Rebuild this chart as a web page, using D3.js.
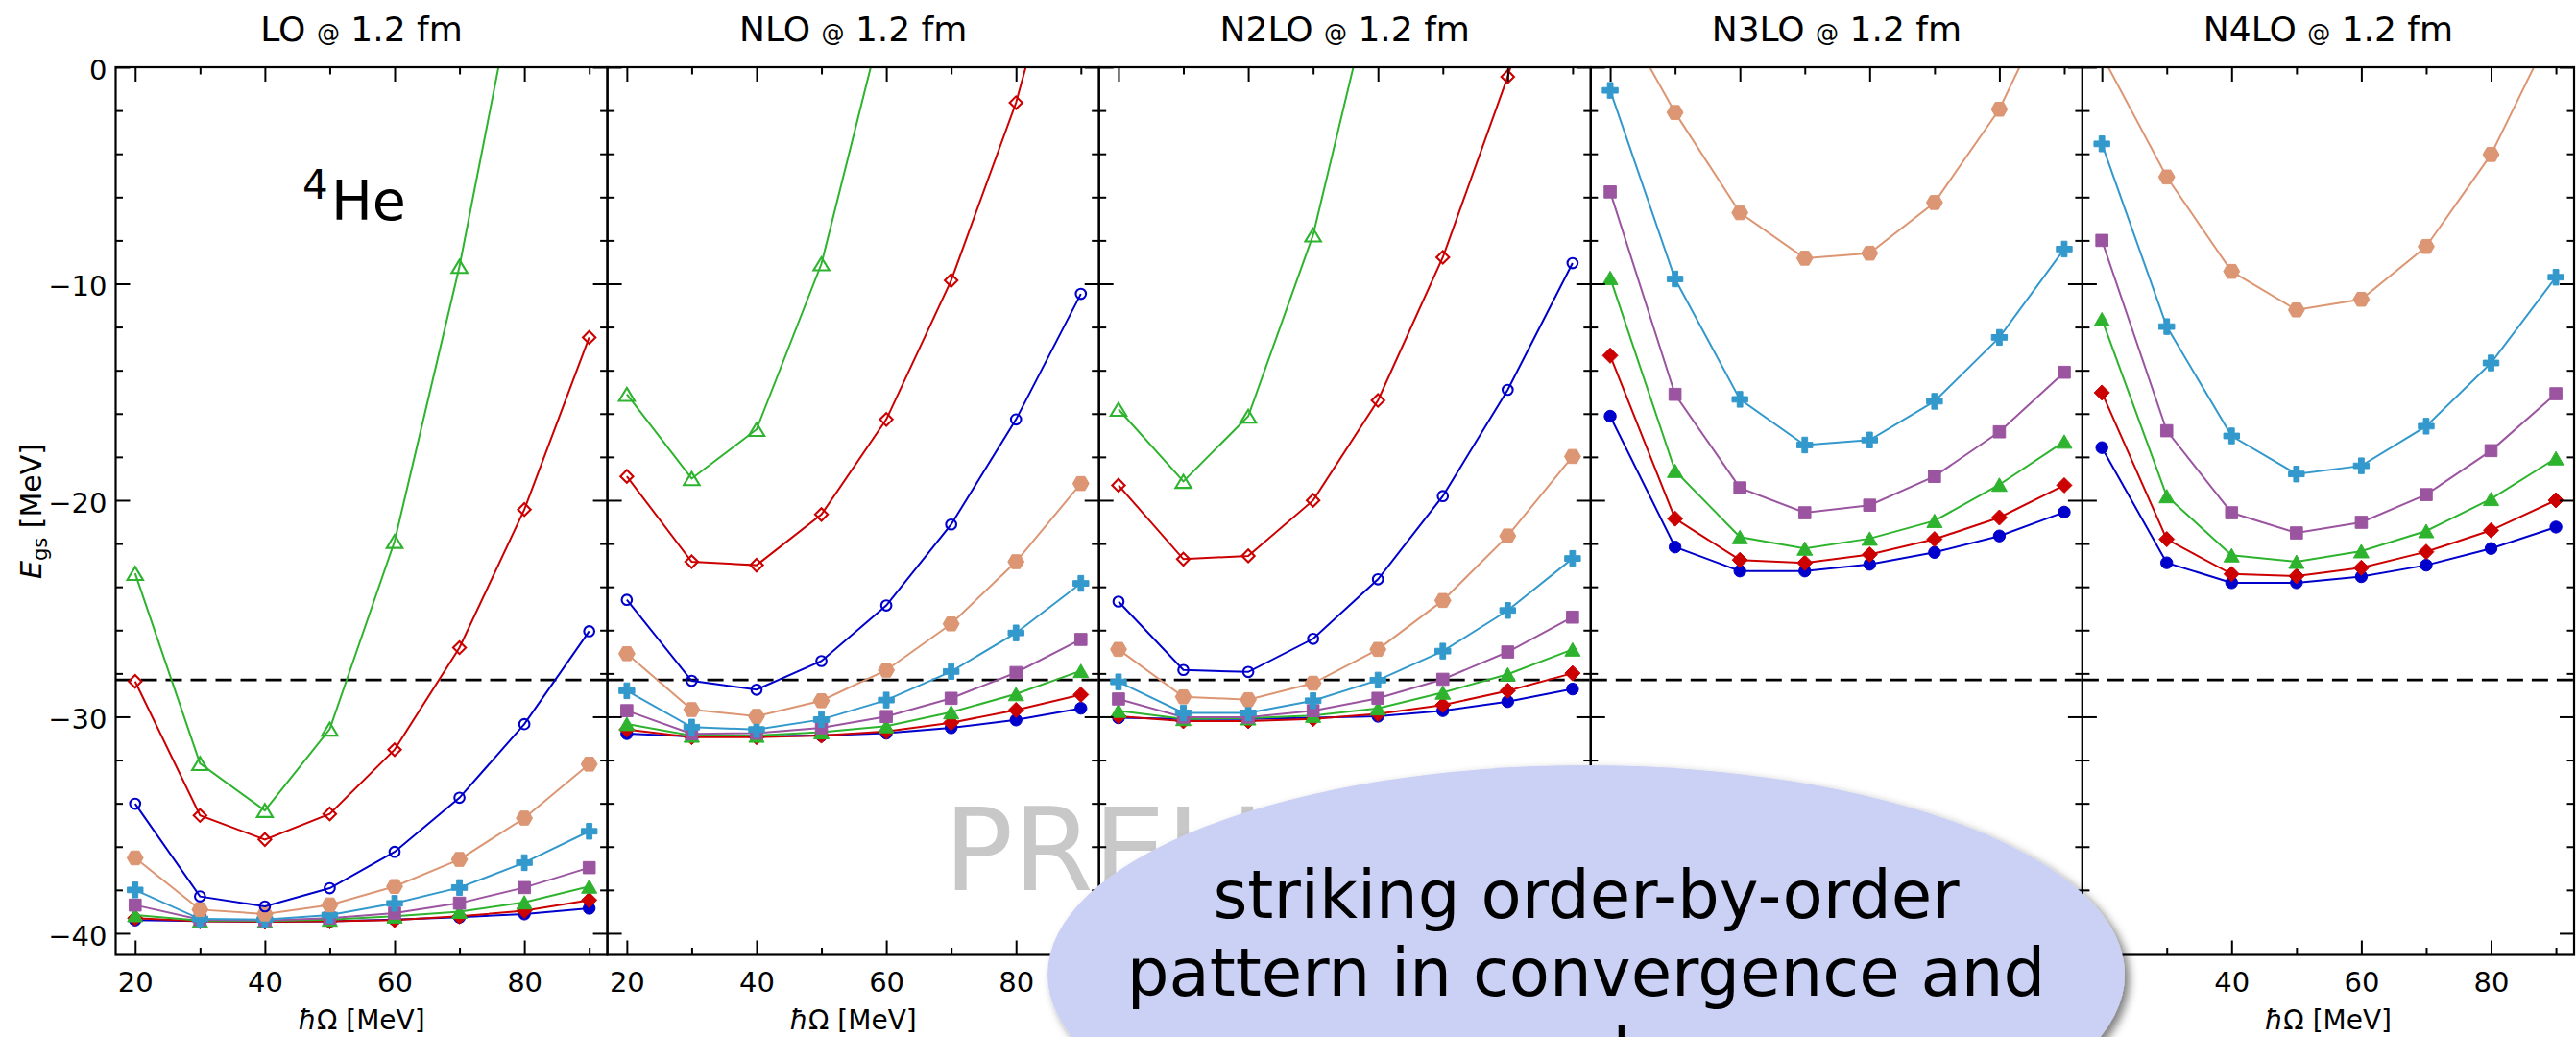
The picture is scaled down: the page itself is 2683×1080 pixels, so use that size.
<!DOCTYPE html>
<html>
<head>
<meta charset="utf-8">
<script src="https://cdn.jsdelivr.net/npm/d3@7"></script>
<style>
  html, body { margin: 0; padding: 0; background: #fff; }
  svg { display: block; }
  text { font-family: "DejaVu Sans", sans-serif; white-space: pre; }
</style>
</head>
<body>
<svg id="chart" width="2683" height="1080"></svg>
<script>
// oscillator frequencies (MeV)
const hw = [20, 30, 40, 50, 60, 70, 80, 90];
const orders = ["LO", "NLO", "N2LO", "N3LO", "N4LO"];
const yTickLabels = [-40, -30, -20, -10, 0];
const xTickLabels = [20, 40, 60, 80];
const eExp = -28.3;   // experimental 4He ground-state energy

// ground-state energies (MeV), rows ordered by increasing model-space size
const eLO = [
  [-23.38, -32.16, -34.33, -30.57, -21.9, -9.2, 6.1, null],
  [-28.37, -34.56, -35.67, -34.49, -31.52, -26.81, -20.43, -12.48],
  [-34.02, -38.3, -38.76, -37.92, -36.24, -33.74, -30.34, -26.05],
  [-36.52, -38.91, -39.11, -38.69, -37.84, -36.59, -34.68, -32.19],
  [-38.0, -39.34, -39.37, -39.16, -38.62, -37.89, -36.74, -35.29],
  [-38.7, -39.37, -39.41, -39.3, -39.07, -38.61, -37.89, -36.97],
  [-39.16, -39.41, -39.44, -39.37, -39.22, -39.0, -38.57, -37.84],
  [-39.3, -39.45, -39.47, -39.45, -39.39, -39.22, -38.96, -38.47],
  [-39.39, -39.44, -39.47, -39.45, -39.37, -39.26, -39.11, -38.85]
];
const eNLO = [
  [-15.11, -19.0, -16.73, -9.08, 2.87, null, null, null],
  [-18.9, -22.84, -23.0, -20.66, -16.27, -9.85, -1.64, 9.3],
  [-24.6, -28.34, -28.75, -27.43, -24.86, -21.12, -16.27, -10.47],
  [-27.09, -29.67, -29.98, -29.26, -27.85, -25.71, -22.84, -19.23],
  [-28.8, -30.48, -30.59, -30.13, -29.23, -27.91, -26.13, -23.84],
  [-29.72, -30.79, -30.76, -30.51, -29.99, -29.15, -27.96, -26.43],
  [-30.33, -30.87, -30.87, -30.71, -30.43, -29.79, -28.95, -27.88],
  [-30.59, -30.94, -30.94, -30.87, -30.68, -30.28, -29.69, -28.98],
  [-30.78, -30.91, -30.9, -30.87, -30.76, -30.51, -30.15, -29.61]
];
const eN2LO = [
  [-15.8, -19.13, -16.12, -7.75, 4.75, null, null, null],
  [-19.31, -22.72, -22.57, -20.01, -15.39, -8.78, -0.44, 9.6],
  [-24.68, -27.84, -27.93, -26.4, -23.65, -19.81, -14.9, -9.05],
  [-26.89, -29.08, -29.21, -28.45, -26.89, -24.63, -21.65, -17.98],
  [-28.39, -29.82, -29.82, -29.26, -28.31, -26.97, -25.09, -22.69],
  [-29.18, -30.02, -30.02, -29.72, -29.15, -28.27, -27.01, -25.4],
  [-29.72, -30.1, -30.07, -29.95, -29.61, -28.88, -28.04, -26.89],
  [-29.98, -30.2, -30.2, -30.1, -29.87, -29.46, -28.8, -27.99],
  [-30.05, -30.1, -30.1, -30.05, -29.98, -29.72, -29.3, -28.72]
];
const eN3LO = [
  [null, null, null, null, null, null, null, null],
  [null, null, null, null, null, null, null, null],
  [null, null, null, null, null, null, null, null],
  [3.27, -2.09, -6.72, -8.82, -8.59, -6.25, -1.94, 4.32],
  [-1.07, -9.78, -15.34, -17.45, -17.22, -15.43, -12.48, -8.4],
  [-5.76, -15.11, -19.43, -20.58, -20.23, -18.9, -16.84, -14.09],
  [-9.73, -18.64, -21.7, -22.23, -21.77, -20.95, -19.28, -17.29],
  [-13.32, -20.85, -22.76, -22.89, -22.51, -21.8, -20.8, -19.31],
  [-16.12, -22.16, -23.27, -23.27, -22.96, -22.41, -21.65, -20.55]
];
const eN4LO = [
  [null, null, null, null, null, null, null, null],
  [null, null, null, null, null, null, null, null],
  [null, null, null, null, null, null, null, null],
  [0.56, -5.07, -9.43, -11.21, -10.72, -8.28, -4.03, 2.08],
  [-3.54, -11.98, -17.03, -18.79, -18.41, -16.58, -13.66, -9.7],
  [-8.0, -16.79, -20.58, -21.51, -21.02, -19.74, -17.71, -15.08],
  [-11.64, -19.81, -22.54, -22.84, -22.35, -21.42, -19.94, -18.06],
  [-15.03, -21.8, -23.41, -23.5, -23.12, -22.38, -21.39, -20.0],
  [-17.57, -22.89, -23.81, -23.81, -23.53, -23.0, -22.23, -21.24]
];
const panelData = [eLO, eNLO, eN2LO, eN3LO, eN4LO];

// marker style per row
const seriesColor  = ["#2eb32e", "#cc0000", "#0000cc", "#dc9673", "#3399cc", "#9b55a0", "#2eb32e", "#cc0000", "#0000cc"];
const seriesSymbol = ["triangle", "diamond", "circle", "hexagon", "plus", "square", "triangle", "diamond", "circle"];
const seriesFilled = [false, false, false, true, true, true, true, true, true];

// ---------------------------------------------------------------- layout
const svg = d3.select("#chart");
const defs = svg.append("defs");
const plotLeft = 120.5, plotRight = 2681, plotTop = 70, plotBottom = 994.5;
const panelW = (plotRight - plotLeft) / orders.length;
const y = d3.scaleLinear().domain([-41, 0]).range([plotBottom, plotTop]);

function markerPath(kind, filled) {
  switch (kind) {
    case "triangle": {
      const w = filled ? 8 : 8.2, h = filled ? 7 : 6.8;
      return `M0,${-h}L${w},${h}L${-w},${h}Z`;
    }
    case "diamond": {
      const r = filled ? 8 : 6.6;
      return `M0,${-r}L${r},0L0,${r}L${-r},0Z`;
    }
    case "circle": {
      const r = filled ? 6.2 : 5.3;
      return `M${r},0A${r},${r} 0 1,1 ${-r},0A${r},${r} 0 1,1 ${r},0Z`;
    }
    case "hexagon": {
      const R = 8.4;
      const pts = d3.range(6).map(k => [R * Math.cos(k * Math.PI / 3), R * Math.sin(k * Math.PI / 3)]);
      return "M" + pts.map(p => p.join(",")).join("L") + "Z";
    }
    case "square": {
      const s = 6.3;
      return `M${-s},${-s}H${s}V${s}H${-s}Z`;
    }
    case "plus": {
      const w = 8.2, t = 2.9;
      return `M${-t},${-w}H${t}V${-t}H${w}V${t}H${t}V${w}H${-t}V${t}H${-w}V${-t}H${-t}Z`;
    }
  }
}

// faint watermark behind the panels
svg.append("text")
  .attr("x", 983).attr("y", 927)
  .attr("font-size", 120)
  .attr("fill", "#c8c8c8")
  .text("PRELIMINARY");

orders.forEach((order, i) => {
  const x0 = plotLeft + i * panelW, x1 = x0 + panelW;
  const x = d3.scaleLinear().domain([17, 92.8]).range([x0, x1]);
  const g = svg.append("g");

  defs.append("clipPath").attr("id", "clip" + i)
    .append("rect")
    .attr("x", x0).attr("y", plotTop)
    .attr("width", panelW).attr("height", plotBottom - plotTop);

  // experimental reference line
  g.append("line")
    .attr("x1", x0).attr("x2", x1)
    .attr("y1", y(eExp)).attr("y2", y(eExp))
    .attr("stroke", "#000").attr("stroke-width", 2.6)
    .attr("stroke-dasharray", "17,9");

  const plot = g.append("g").attr("clip-path", `url(#clip${i})`);
  const rows = panelData[i];
  const line = d3.line()
    .defined(d => d.v !== null)
    .x(d => x(d.hw)).y(d => y(d.v));

  // larger model spaces first, so the smaller ones sit on top
  d3.range(rows.length - 1, -1, -1).forEach(s => {
    const pts = hw.map((h, k) => ({ hw: h, v: rows[s][k] }));
    if (pts.every(p => p.v === null)) return;
    const sg = plot.append("g");
    sg.append("path")
      .attr("d", line(pts))
      .attr("fill", "none")
      .attr("stroke", seriesColor[s])
      .attr("stroke-width", 2);
    sg.selectAll("path.mk")
      .data(pts.filter(p => p.v !== null))
      .join("path")
      .attr("class", "mk")
      .attr("transform", d => `translate(${x(d.hw)},${y(d.v)})`)
      .attr("d", markerPath(seriesSymbol[s], seriesFilled[s]))
      .attr("fill", seriesFilled[s] ? seriesColor[s] : "none")
      .attr("stroke", seriesColor[s])
      .attr("stroke-width", seriesFilled[s] ? 1 : 2.1)
      .attr("stroke-linejoin", "miter");
  });

  // inward ticks on all four sides
  const yMajor = yTickLabels;
  const yMinor = d3.range(-38, 0, 2).filter(v => v % 10 !== 0);
  const xMajor = xTickLabels;
  const xMinor = [30, 50, 70, 90];

  function addAxis(axis, tx, ty) {
    const a = g.append("g").attr("transform", `translate(${tx},${ty})`).call(axis);
    a.select(".domain").remove();
    a.selectAll(".tick line").attr("stroke", "#000").attr("stroke-width", 2);
    return a;
  }

  const leftMajor = addAxis(
    d3.axisLeft(y).tickValues(yMajor).tickSize(-15).tickPadding(9)
      .tickFormat(i === 0 ? d3.format("d") : () => ""), x0, 0);
  leftMajor.selectAll("text")
    .attr("font-size", 29).attr("font-family", "DejaVu Sans")
    .attr("fill", "#000").attr("dy", "0.42em");
  addAxis(d3.axisLeft(y).tickValues(yMinor).tickSize(-7.5).tickFormat(() => ""), x0, 0);
  addAxis(d3.axisRight(y).tickValues(yMajor).tickSize(-15).tickFormat(() => ""), x1, 0);
  addAxis(d3.axisRight(y).tickValues(yMinor).tickSize(-7.5).tickFormat(() => ""), x1, 0);

  const bottomMajor = addAxis(
    d3.axisBottom(x).tickValues(xMajor).tickSize(-15).tickPadding(18).tickFormat(d3.format("d")),
    0, plotBottom);
  bottomMajor.selectAll("text")
    .attr("font-size", 29).attr("font-family", "DejaVu Sans").attr("fill", "#000");
  addAxis(d3.axisBottom(x).tickValues(xMinor).tickSize(-7.5).tickFormat(() => ""), 0, plotBottom);
  addAxis(d3.axisTop(x).tickValues(xMajor).tickSize(-15).tickFormat(() => ""), 0, plotTop);
  addAxis(d3.axisTop(x).tickValues(xMinor).tickSize(-7.5).tickFormat(() => ""), 0, plotTop);

  // frame
  g.append("rect")
    .attr("x", x0).attr("y", plotTop)
    .attr("width", panelW).attr("height", plotBottom - plotTop)
    .attr("fill", "none").attr("stroke", "#000").attr("stroke-width", 2.2);

  // panel title
  const cx = (x0 + x1) / 2;
  const title = g.append("text")
    .attr("x", cx).attr("y", 43)
    .attr("text-anchor", "middle")
    .attr("font-size", 36).attr("fill", "#000");
  title.append("tspan").text(order + " ");
  title.append("tspan").attr("font-size", 24).text("@");
  title.append("tspan").text(" 1.2 fm");

  // x-axis title
  const xl = g.append("text")
    .attr("x", cx).attr("y", 1072)
    .attr("text-anchor", "middle")
    .attr("font-size", 28).attr("fill", "#000");
  xl.append("tspan").attr("font-style", "italic").text("ħ");
  xl.append("tspan").text("Ω [MeV]");
});

// y-axis title
const yl = svg.append("text")
  .attr("transform", "translate(42.5,532.5) rotate(-90)")
  .attr("text-anchor", "middle")
  .attr("font-size", 30).attr("fill", "#000");
yl.append("tspan").attr("font-style", "italic").text("E");
yl.append("tspan").attr("font-size", 21).attr("dy", 6).text("gs");
yl.append("tspan").attr("dy", -6).text(" [MeV]");

// nucleus label
svg.append("text").attr("x", 315).attr("y", 207).attr("font-size", 42).attr("fill", "#000").text("4");
svg.append("text").attr("x", 345).attr("y", 229).attr("font-size", 57).attr("fill", "#000").text("He");

// callout bubble
const shadow = defs.append("filter").attr("id", "bubbleShadow")
  .attr("x", "-10%").attr("y", "-20%").attr("width", "125%").attr("height", "150%");
shadow.append("feGaussianBlur").attr("in", "SourceAlpha").attr("stdDeviation", 5).attr("result", "blur");
shadow.append("feOffset").attr("in", "blur").attr("dx", 5).attr("dy", 5).attr("result", "off");
shadow.append("feFlood").attr("flood-color", "#000").attr("flood-opacity", 0.5).attr("result", "col");
shadow.append("feComposite").attr("in", "col").attr("in2", "off").attr("operator", "in").attr("result", "sh");
const merge = shadow.append("feMerge");
merge.append("feMergeNode").attr("in", "sh");
merge.append("feMergeNode").attr("in", "SourceGraphic");

svg.append("ellipse")
  .attr("cx", 1652).attr("cy", 1015)
  .attr("rx", 561).attr("ry", 218)
  .attr("fill", "#cbd1f4")
  .attr("filter", "url(#bubbleShadow)");

const bubbleLines = ["striking order-by-order", "pattern in convergence and", "scale"];
const bubbleBaselines = [956, 1037, 1121];
svg.append("g").selectAll("text")
  .data(bubbleLines)
  .join("text")
  .attr("x", 1652)
  .attr("y", (d, k) => bubbleBaselines[k])
  .attr("text-anchor", "middle")
  .attr("font-size", 69)
  .attr("fill", "#000")
  .text(d => d);
</script>
</body>
</html>
